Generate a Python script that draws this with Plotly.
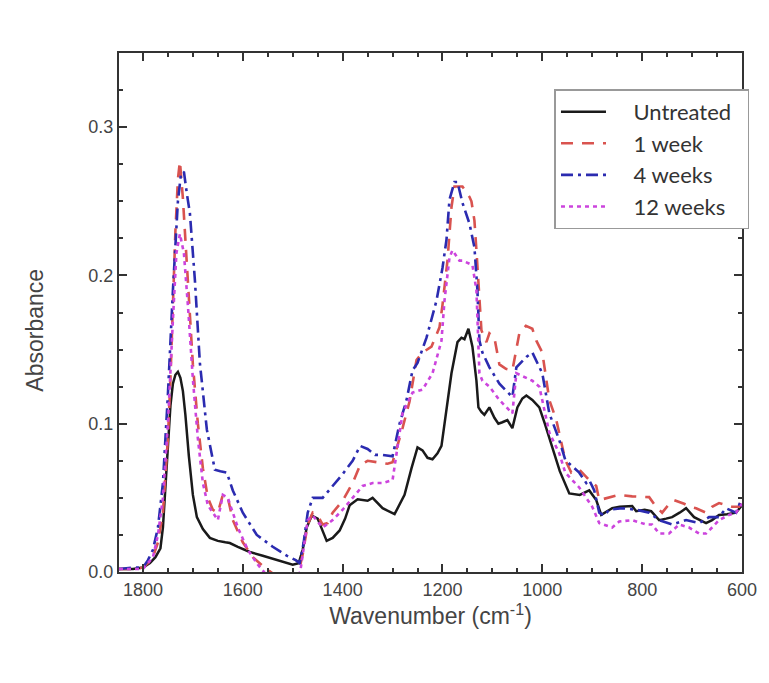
import plotly.graph_objects as go

# ---------------- data ----------------
wn_untreated = [1848, 1820, 1800, 1786, 1775, 1765, 1760, 1755, 1750, 1745, 1740, 1735, 1730, 1725, 1720,
                1715, 1708, 1700, 1692, 1680, 1666, 1650, 1635, 1626, 1610, 1586, 1560, 1530, 1500, 1488,
                1480, 1472, 1462, 1450, 1440, 1432, 1420, 1406, 1395, 1386, 1370, 1350, 1340, 1320, 1296,
                1276, 1262, 1250, 1240, 1230, 1220, 1210, 1202, 1190, 1182, 1170, 1162, 1156, 1148, 1140,
                1132, 1128, 1122, 1116, 1106, 1096, 1088, 1080, 1070, 1060, 1050, 1040, 1032, 1020, 1006,
                995, 980, 965, 946, 925, 906, 892, 882, 870, 860, 845, 832, 820, 812, 795, 782, 766,
                752, 740, 725, 712, 696, 684, 672, 660, 646, 630, 612, 600]
abs_untreated = [0.002, 0.002, 0.003, 0.006, 0.01, 0.016, 0.03, 0.06, 0.09, 0.112, 0.127, 0.133, 0.135, 0.131, 0.122,
                 0.106, 0.078, 0.052, 0.037, 0.029, 0.023, 0.021, 0.02, 0.0195, 0.017, 0.0135, 0.011, 0.008, 0.005, 0.006,
                 0.015, 0.03, 0.038, 0.036, 0.027, 0.021, 0.023, 0.028, 0.036, 0.045, 0.049, 0.048, 0.05, 0.043, 0.039,
                 0.052, 0.07, 0.084, 0.082, 0.077, 0.076, 0.08, 0.085, 0.113, 0.134, 0.155, 0.158, 0.157, 0.164, 0.152,
                 0.129, 0.111, 0.108, 0.106, 0.111, 0.104, 0.1, 0.101, 0.1025, 0.097, 0.111, 0.117, 0.119, 0.116, 0.111,
                 0.1, 0.084, 0.068, 0.053, 0.052, 0.055, 0.0485, 0.0385, 0.041, 0.043, 0.044, 0.044, 0.0445, 0.041, 0.042, 0.041, 0.035,
                 0.036, 0.037, 0.04, 0.043, 0.037, 0.035, 0.033, 0.035, 0.0385, 0.039, 0.04, 0.045]

wn_1week = [1848, 1820, 1800, 1790, 1780, 1770, 1760, 1750, 1745, 1740, 1735, 1730, 1726, 1720, 1715,
            1710, 1700, 1690, 1680, 1670, 1660, 1650, 1640, 1630, 1620, 1600, 1580, 1560, 1540, 1520,
            1500, 1488, 1480, 1470, 1460, 1450, 1440, 1430, 1420, 1400, 1380, 1365, 1350, 1330, 1310,
            1300, 1280, 1266, 1252, 1240, 1222, 1206, 1200, 1190, 1182, 1176, 1160, 1150, 1146, 1142,
            1136, 1132, 1126, 1122, 1112, 1106, 1096, 1086, 1073, 1060, 1046, 1033, 1020, 1012, 1000,
            986, 972, 954, 942, 926, 906, 892, 886, 866, 846, 820, 786, 772, 760, 748, 736, 716,
            704, 692, 672, 660, 646, 620, 606, 600]
abs_1week = [0.002, 0.002, 0.003, 0.006, 0.01, 0.02, 0.04, 0.09, 0.13, 0.18, 0.23, 0.265, 0.277, 0.252, 0.225,
             0.19, 0.14, 0.10, 0.07, 0.05, 0.042, 0.04, 0.052, 0.05, 0.035, 0.02, 0.01, 0.004, -0.001, -0.004,
             -0.004, 0.0, 0.012, 0.032, 0.04, 0.038, 0.032, 0.033, 0.04, 0.048, 0.06, 0.072, 0.075, 0.074, 0.073,
             0.074, 0.097, 0.115, 0.143, 0.148, 0.152, 0.165, 0.18, 0.21, 0.246, 0.26, 0.26, 0.255, 0.253, 0.25,
             0.237, 0.217, 0.183, 0.163, 0.155, 0.161, 0.158, 0.14, 0.137, 0.136, 0.161, 0.166, 0.164, 0.156, 0.148,
             0.116, 0.1025, 0.0755, 0.067, 0.069, 0.062, 0.058, 0.0485, 0.05, 0.052, 0.051, 0.0505, 0.044, 0.04, 0.045, 0.0485, 0.046,
             0.044, 0.043, 0.04, 0.044, 0.0465, 0.044, 0.044, 0.0505]

wn_4weeks = [1848, 1820, 1800, 1790, 1780, 1770, 1760, 1750, 1740, 1730, 1724, 1718, 1712, 1706, 1696,
             1686, 1672, 1656, 1645, 1632, 1620, 1600, 1572, 1540, 1512, 1494, 1486, 1478, 1470, 1460,
             1440, 1420, 1400, 1380, 1365, 1350, 1335, 1320, 1300, 1286, 1272, 1260, 1250, 1232, 1212,
             1200, 1192, 1186, 1176, 1170, 1160, 1146, 1136, 1130, 1126, 1120, 1106, 1086, 1060, 1052,
             1032, 1020, 1000, 986, 966, 954, 926, 912, 906, 896, 886, 876, 866, 840, 812, 786, 766,
             740, 712, 686, 666, 646, 632, 612, 600]
abs_4weeks = [0.002, 0.003, 0.003, 0.008, 0.015, 0.03, 0.06, 0.12, 0.19, 0.25, 0.268, 0.27, 0.255, 0.242, 0.197,
              0.141, 0.096, 0.069, 0.068, 0.067, 0.055, 0.04, 0.025, 0.017, 0.011, 0.008, 0.006, 0.02, 0.04, 0.05,
              0.05, 0.058, 0.066, 0.075, 0.085, 0.083, 0.079, 0.079, 0.078, 0.1, 0.116, 0.136, 0.141, 0.158, 0.183,
              0.205, 0.224, 0.251, 0.263, 0.263, 0.249, 0.235, 0.219, 0.19, 0.156, 0.148, 0.138, 0.127, 0.118, 0.138,
              0.145, 0.148, 0.134, 0.107, 0.089, 0.0755, 0.067, 0.06, 0.062, 0.055, 0.04, 0.038, 0.042, 0.043, 0.042, 0.04, 0.035,
              0.032, 0.035, 0.033, 0.037, 0.037, 0.043, 0.04, 0.05]

wn_12weeks = [1848, 1820, 1800, 1780, 1770, 1760, 1750, 1740, 1733, 1726, 1718, 1710, 1700, 1690, 1680,
              1670, 1660, 1650, 1640, 1630, 1610, 1590, 1570, 1550, 1520, 1500, 1485, 1470, 1460, 1440,
              1420, 1400, 1380, 1360, 1340, 1320, 1300, 1280, 1260, 1240, 1220, 1202, 1196, 1186, 1180,
              1166, 1160, 1140, 1132, 1128, 1126, 1120, 1106, 1086, 1060, 1052, 1032, 1020, 1006, 986,
              966, 954, 926, 900, 886, 860, 846, 820, 792, 780, 766, 746, 726, 706, 686, 672, 660,
              646, 626, 612, 600]
abs_12weeks = [0.002, 0.002, 0.002, 0.01, 0.025, 0.05, 0.10, 0.17, 0.215, 0.228, 0.215, 0.18, 0.13, 0.09, 0.06,
               0.045, 0.04, 0.035, 0.052, 0.05, 0.03, 0.015, 0.005, -0.003, -0.006, -0.005, 0.0, 0.035, 0.038, 0.03,
               0.035, 0.042, 0.05, 0.058, 0.06, 0.06, 0.062, 0.107, 0.121, 0.123, 0.134, 0.156, 0.183, 0.212, 0.217,
               0.21, 0.21, 0.207, 0.19, 0.156, 0.134, 0.129, 0.125, 0.116, 0.107, 0.134, 0.131, 0.129, 0.125, 0.094,
               0.08, 0.067, 0.057, 0.044, 0.033, 0.03, 0.034, 0.035, 0.032, 0.032, 0.026, 0.026, 0.032, 0.03, 0.026, 0.026, 0.03,
               0.035, 0.0385, 0.04, 0.046]

series_names = ["Untreated", "1 week", "4 weeks", "12 weeks"]
x_ticks = [1800, 1600, 1400, 1200, 1000, 800, 600]
y_ticks = [0.0, 0.1, 0.2, 0.3]

# ---------------- figure ----------------
styles = [
    dict(color="#1a1a1a", dash="solid", width=2.5),
    dict(color="#d9534f", dash="12px,9px", width=2.6),
    dict(color="#2b2bb0", dash="12px,5px,3px,5px", width=2.6),
    dict(color="#cc44dd", dash="4px,4px", width=2.6),
]
data = [(wn_untreated, abs_untreated), (wn_1week, abs_1week),
        (wn_4weeks, abs_4weeks), (wn_12weeks, abs_12weeks)]

fig = go.Figure()
for name, (xs, ys), st in zip(series_names, data, styles):
    fig.add_trace(go.Scatter(x=xs, y=ys, mode="lines", name="\u00a0\u00a0\u00a0\u00a0" + name + "\u00a0\u00a0",
                             line=dict(color=st["color"], dash=st["dash"], width=st["width"])))

axis_common = dict(
    showline=True, linecolor="#333333", linewidth=2, mirror="ticks",
    ticks="inside", ticklen=8, tickwidth=2, tickcolor="#333333",
    showgrid=False, zeroline=False,
    tickfont=dict(family="Liberation Sans, Arial", size=18, color="#444444"),
)

fig.update_xaxes(
    range=[1848, 600], tickvals=x_ticks,
    minor=dict(dtick=50, ticks="inside", ticklen=4, tickwidth=2, tickcolor="#333333"),
    title=dict(text="Wavenumber (cm<sup>-1</sup>)", standoff=0,
               font=dict(family="Liberation Sans, Arial", size=23, color="#444444")),
    **axis_common,
)
fig.update_yaxes(
    range=[0, 0.35], tickvals=y_ticks, tickformat=".1f",
    minor=dict(dtick=0.025, ticks="inside", ticklen=4, tickwidth=2, tickcolor="#333333"),
    **axis_common,
)

fig.add_annotation(
    text="Absorbance", textangle=-90, showarrow=False,
    xref="paper", yref="paper", x=-0.134, y=0.466, xanchor="center", yanchor="middle",
    font=dict(family="Liberation Sans, Arial", size=23, color="#444444"),
)

fig.update_layout(
    width=769, height=683,
    margin=dict(l=119, r=22, t=53, b=111),
    paper_bgcolor="white", plot_bgcolor="white",
    showlegend=True,
    legend=dict(x=0.699, y=0.93, xanchor="left", yanchor="top",
                bgcolor="white", bordercolor="#999999", borderwidth=1.5,
                font=dict(family="Lato, Noto Sans", size=22, color="#333333"),
                itemwidth=45, tracegroupgap=0),
)

fig.write_html("out.html")
